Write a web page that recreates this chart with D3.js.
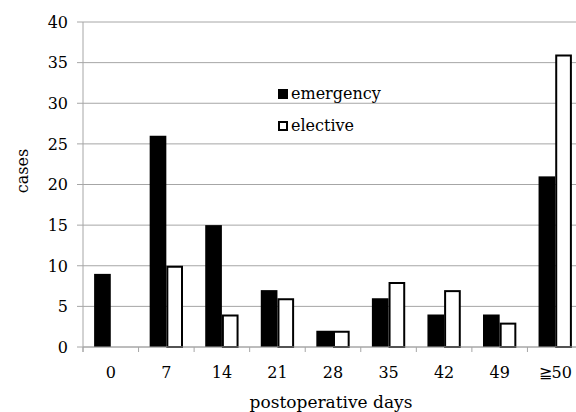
<!DOCTYPE html>
<html>
<head>
<meta charset="utf-8">
<script src="https://cdn.jsdelivr.net/npm/d3@7"></script>
<style>
  body { margin: 0; background: #fff; }
  text { font-family: "DejaVu Serif", serif; fill: #000; }
</style>
</head>
<body>
<div id="chart"></div>
<script>
// data
const days = ["0", "7", "14", "21", "28", "35", "42", "49", "≧50"];
const emergency = [9, 26, 15, 7, 2, 6, 4, 4, 21];
const elective = [0, 10, 4, 6, 2, 8, 7, 3, 36];
const yTicks = [0, 5, 10, 15, 20, 25, 30, 35, 40];
const seriesNames = ["emergency", "elective"];

const W = 576, H = 412;
const mLeft = 83, mRight = 583, mTop = 22, mBottom = 347;

const svg = d3.select("#chart").append("svg")
  .attr("width", W).attr("height", H);

const x = d3.scaleBand().domain(days).range([mLeft, mRight]).padding(0);
const y = d3.scaleLinear().domain([0, 40]).range([mBottom, mTop]);
const sub = d3.scaleBand().domain(seriesNames)
  .range([x.bandwidth() * 0.2, x.bandwidth() * 0.8]);

// gridlines
svg.append("g").selectAll("line").data(yTicks).join("line")
  .attr("x1", mLeft - 6).attr("x2", mRight)
  .attr("y1", d => y(d)).attr("y2", d => y(d))
  .attr("stroke", "#a6a6a6").attr("stroke-width", 1);

// y labels
svg.append("g").selectAll("text").data(yTicks).join("text")
  .attr("x", 68).attr("y", d => y(d))
  .attr("dy", "0.36em").attr("text-anchor", "end")
  .style("font-size", "16px")
  .text(d => d);

// bars
const rows = days.map((d, i) => ({ day: d, emergency: emergency[i], elective: elective[i] }));
const grp = svg.append("g").selectAll("g").data(rows).join("g")
  .attr("transform", d => `translate(${x(d.day)},0)`);

grp.append("rect")
  .attr("x", sub("emergency")).attr("width", sub.bandwidth())
  .attr("y", d => y(d.emergency)).attr("height", d => y(0) - y(d.emergency))
  .attr("fill", "#000");

grp.filter(d => d.elective > 0).append("rect")
  .attr("x", sub("elective") + 1).attr("width", sub.bandwidth() - 2)
  .attr("y", d => y(d.elective) + 1).attr("height", d => y(0) - y(d.elective) - 1)
  .attr("fill", "#fff").attr("stroke", "#000").attr("stroke-width", 2);

// axes lines
svg.append("line").attr("x1", mLeft).attr("x2", mLeft)
  .attr("y1", mTop).attr("y2", mBottom + 5)
  .attr("stroke", "#a6a6a6");
svg.append("line").attr("x1", mLeft).attr("x2", mRight)
  .attr("y1", mBottom).attr("y2", mBottom)
  .attr("stroke", "#a6a6a6");
svg.append("g").selectAll("line").data(days).join("line")
  .attr("x1", d => x(d)).attr("x2", d => x(d))
  .attr("y1", mBottom).attr("y2", mBottom + 5)
  .attr("stroke", "#a6a6a6");

// x labels
svg.append("g").selectAll("text").data(days).join("text")
  .attr("x", d => x(d) + x.bandwidth() / 2).attr("y", 372)
  .attr("dy", "0.36em").attr("text-anchor", "middle")
  .style("font-size", "16px")
  .text(d => d);

// axis titles
svg.append("text")
  .attr("x", 331).attr("y", 408)
  .attr("text-anchor", "middle").style("font-size", "17px")
  .text("postoperative days");
svg.append("text")
  .attr("transform", "translate(22,171) rotate(-90)")
  .attr("dy", "0.36em").attr("text-anchor", "middle").style("font-size", "16px")
  .text("cases");

// legend
const leg = svg.append("g").selectAll("g").data(seriesNames).join("g")
  .attr("transform", (d, i) => `translate(278,${94 + i * 32})`);
leg.append("rect")
  .attr("x", d => d === "elective" ? 1 : 0).attr("y", d => d === "elective" ? -4 : -5)
  .attr("width", d => d === "elective" ? 8 : 10).attr("height", d => d === "elective" ? 8 : 10)
  .attr("fill", d => d === "elective" ? "#fff" : "#000")
  .attr("stroke", d => d === "elective" ? "#000" : "none").attr("stroke-width", 2);
leg.append("text")
  .attr("x", 13).attr("dy", "0.32em").style("font-size", "16px")
  .text(d => d);
</script>
</body>
</html>
